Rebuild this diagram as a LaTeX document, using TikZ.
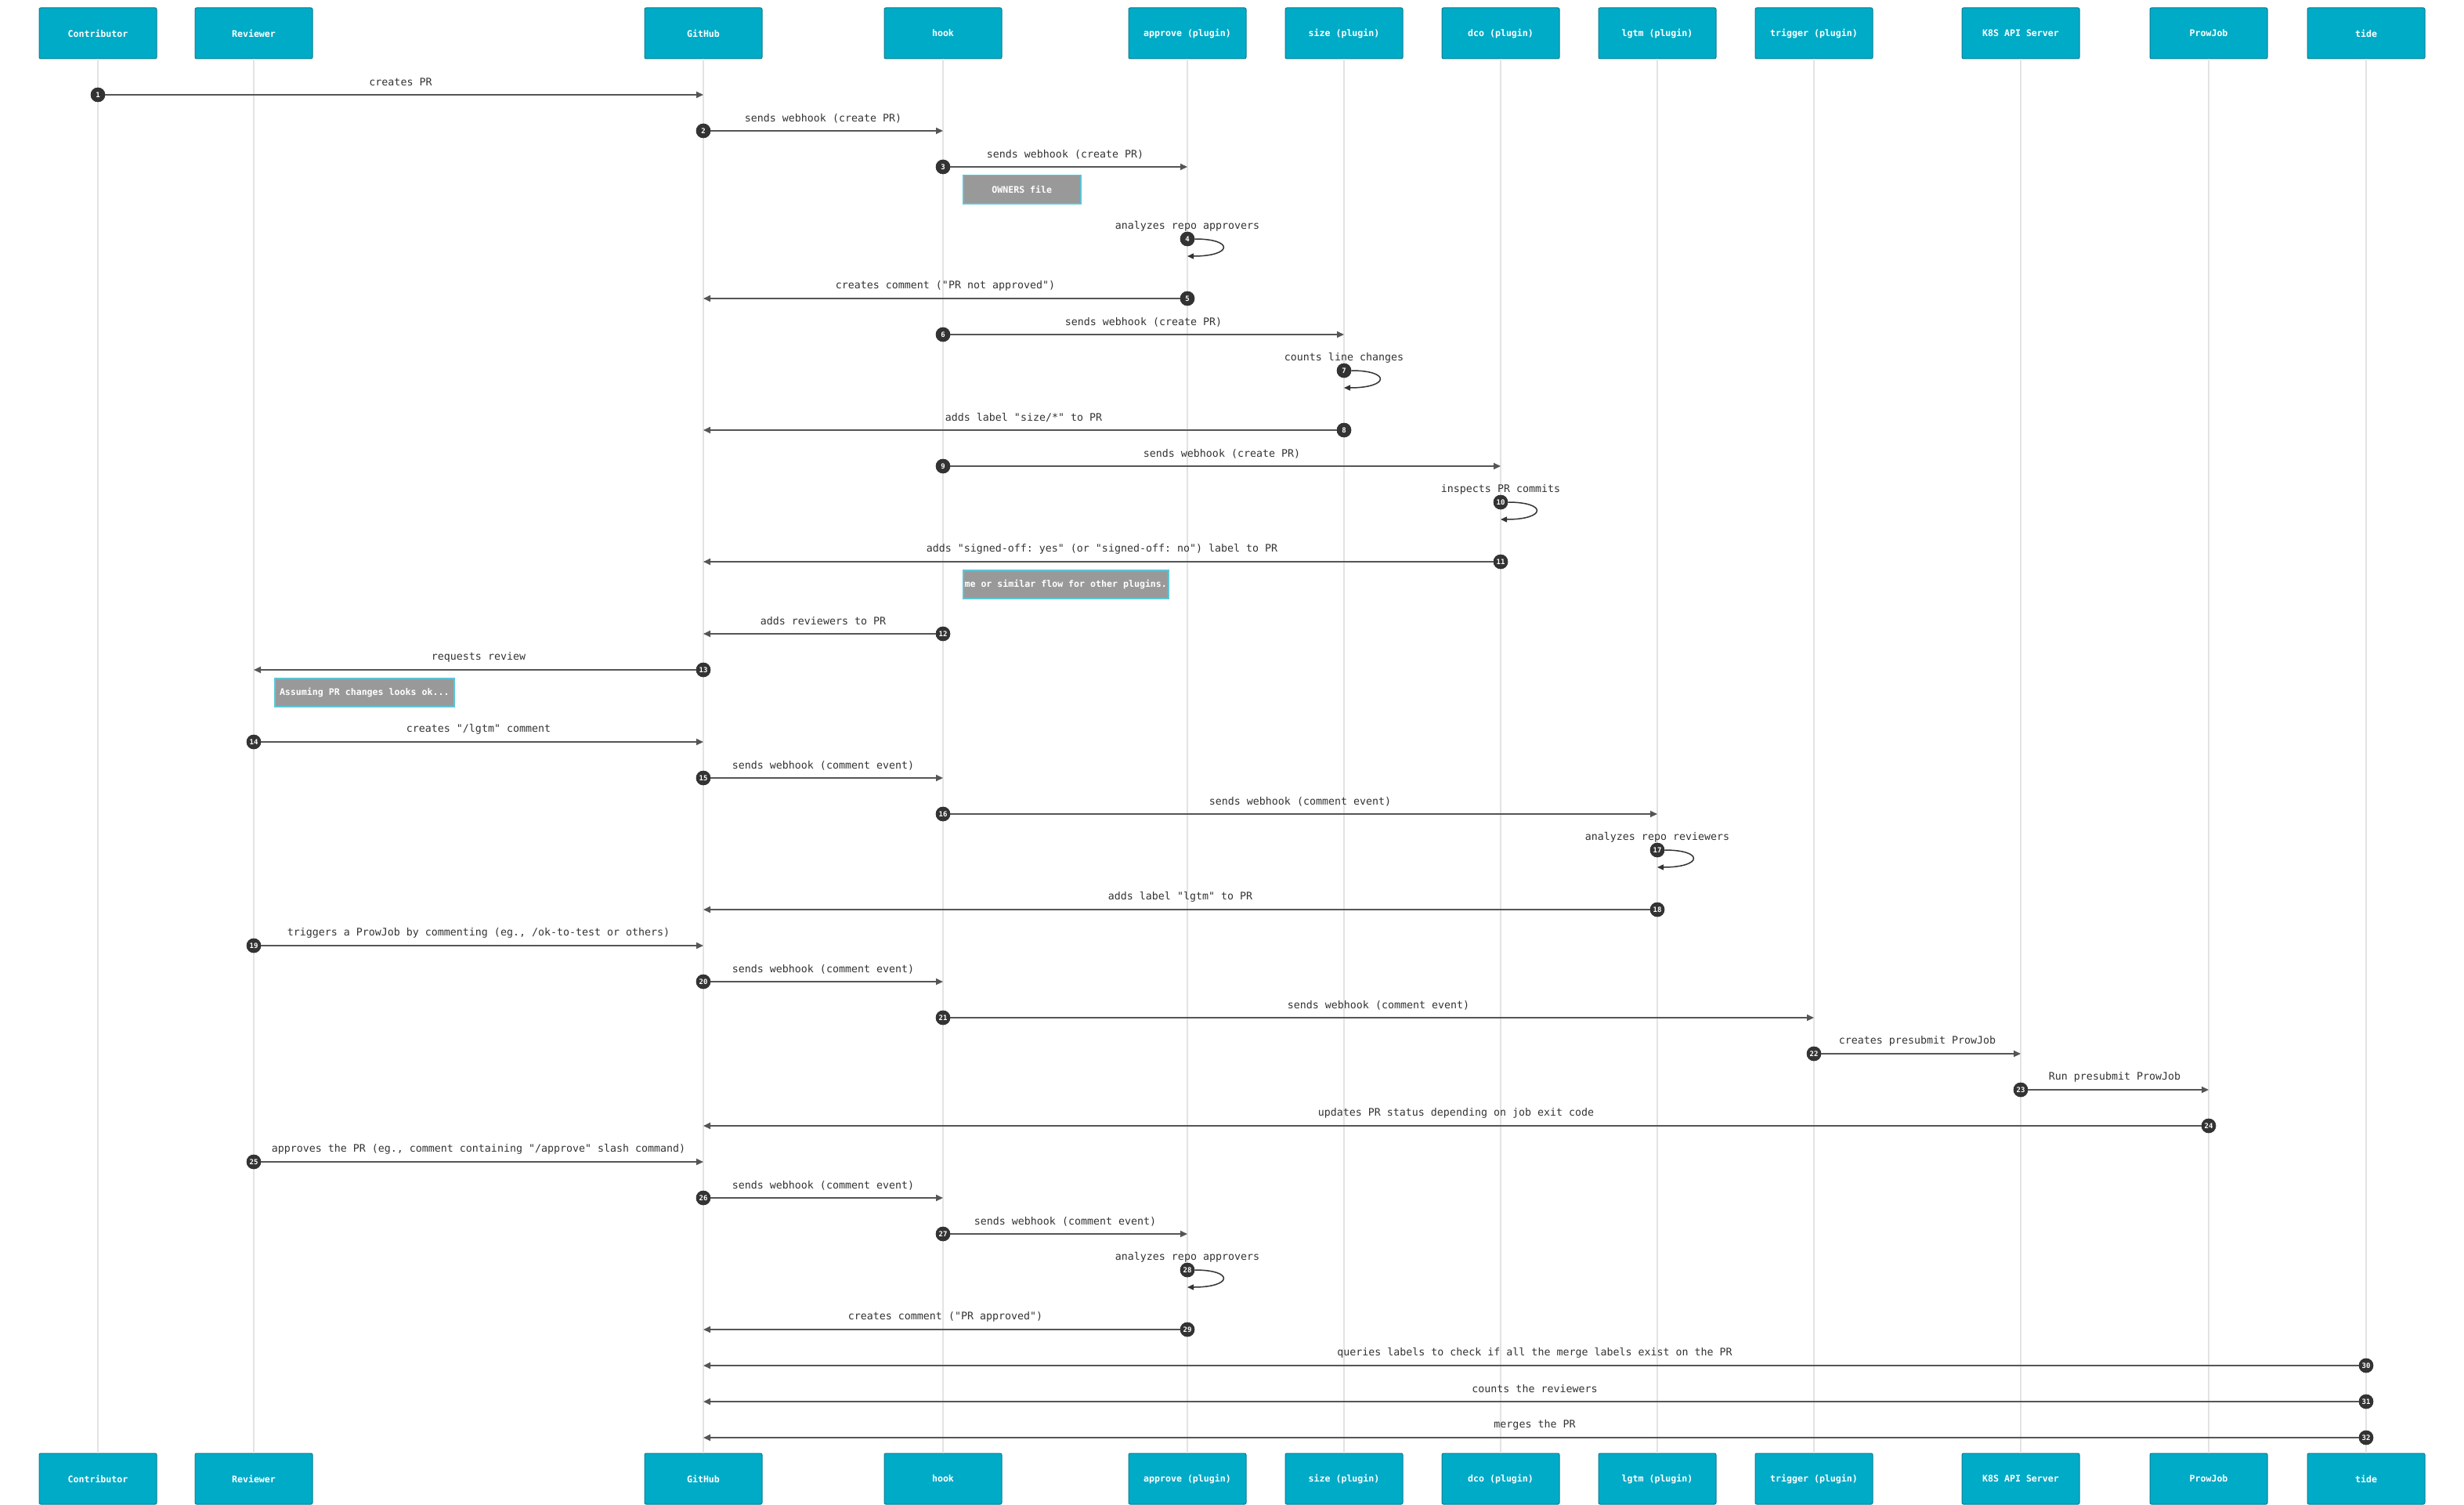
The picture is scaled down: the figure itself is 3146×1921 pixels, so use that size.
\documentclass[tikz,border=0pt]{standalone}
\usepackage{fontspec}
\setmonofont{DejaVu Sans Mono}
\usetikzlibrary{arrows.meta,calc}
\definecolor{actorfill}{HTML}{00ABC7}
\definecolor{actorline}{HTML}{0E7D92}
\definecolor{notefill}{HTML}{999999}
\definecolor{noteline}{HTML}{5CC5D6}
\definecolor{msgline}{HTML}{555555}
\definecolor{msgtext}{HTML}{333333}
\definecolor{life}{HTML}{E3E3E3}
\definecolor{numfill}{HTML}{333333}
\tikzset{
  actorbox/.style={draw=actorline, fill=actorfill, rounded corners=2pt, minimum width=150pt, minimum height=65pt, inner sep=0pt, text=white, font=\ttfamily\bfseries\fontsize{11.6}{13}\selectfont, line width=1pt},
  lifeline/.style={draw=life, line width=2pt},
  seqnum/.style={circle, fill=numfill, minimum size=18.5pt, inner sep=0pt, text=white, font=\ttfamily\bfseries\fontsize{9}{9}\selectfont},
  msgarrow/.style={draw=msgline, line width=2pt, -{Triangle[length=9pt,width=8pt]}},
  msglabel/.style={text=msgtext, font=\ttfamily\fontsize{13.3}{15}\selectfont, inner sep=0pt},
  notebox/.style={draw=noteline, fill=notefill, line width=1.5pt, text=white, font=\ttfamily\bfseries\fontsize{11.6}{13}\selectfont, minimum height=36pt, inner sep=0pt, anchor=north west},
  selfloop/.style={draw=numfill, line width=1.5pt, -{Triangle[length=8pt,width=7pt]}},
}
\newcommand\seqmsg[5]{%
  \coordinate (s#1) at (#2 |- 0,#4);
  \coordinate (e#1) at (#3 |- 0,#4);
  \node[seqnum] (n#1) at (s#1) {#1};
  \draw[msgarrow] (n#1) -- (e#1);
  \node[seqnum] at (s#1) {#1};
  \node[msglabel] (l#1) at ($(s#1)!0.5!(e#1)+(0,-16)$) {#5};
}
\newcommand\seqself[4]{%
  \coordinate (s#1) at (#2 |- 0,#3);
  \coordinate (e#1) at (#2 |- 0,#3+22);
  \node[seqnum] (n#1) at (s#1) {#1};
  \draw[selfloop] (n#1) .. controls +(60,0) and +(58,0) .. (e#1);
  \node[seqnum] at (s#1) {#1};
  \node[msglabel] (l#1) at ($(s#1)+(0,-16)$) {#4};
}
\begin{document}
\begin{tikzpicture}[x=1pt,y=-1pt]
\useasboundingbox (0,0) rectangle (3146,1921);
\fill[white] (0,0) rectangle (3146,1921);
% actors
\foreach \nm/\xx/\txt in {contrib/125/Contributor, rev/324/Reviewer, gh/898/GitHub, hook/1204/hook, appr/1516/approve (plugin), size/1716/size (plugin), dco/1916/dco (plugin), lgtm/2116/lgtm (plugin), trig/2316/trigger (plugin), k8s/2580/K8S API Server, pj/2820/ProwJob, tide/3021/tide}{
  \node[actorbox] (\nm) at (\xx,42.5) {\txt};
  \node[actorbox] (\nm B) at (\xx,1887.5) {\txt};
  \draw[lifeline] (\nm) -- (\nm B);
}
% messages
\seqmsg{1}{contrib}{gh}{121}{creates PR}
\seqmsg{2}{gh}{hook}{167}{sends webhook (create PR)}
\seqmsg{3}{hook}{appr}{213}{sends webhook (create PR)}
\node[notebox, minimum width=150pt] (note1) at (1229,223) {OWNERS file};
\seqself{4}{appr}{305}{analyzes repo approvers}
\seqmsg{5}{appr}{gh}{381}{creates comment ("PR not approved")}
\seqmsg{6}{hook}{size}{427}{sends webhook (create PR)}
\seqself{7}{size}{473}{counts line changes}
\seqmsg{8}{size}{gh}{549}{adds label "size/*" to PR}
\seqmsg{9}{hook}{dco}{595}{sends webhook (create PR)}
\seqself{10}{dco}{641}{inspects PR commits}
\seqmsg{11}{dco}{gh}{717}{adds "signed-off: yes" (or "signed-off: no") label to PR}
\node[notebox, minimum width=262pt] (note2) at (1229,727) {me or similar flow for other plugins.};
\seqmsg{12}{hook}{gh}{809}{adds reviewers to PR}
\seqmsg{13}{gh}{rev}{855}{requests review}
\node[notebox, minimum width=229pt] (note3) at (350,865) {Assuming PR changes looks ok...};
\seqmsg{14}{rev}{gh}{947}{creates "/lgtm" comment}
\seqmsg{15}{gh}{hook}{993}{sends webhook (comment event)}
\seqmsg{16}{hook}{lgtm}{1039}{sends webhook (comment event)}
\seqself{17}{lgtm}{1085}{analyzes repo reviewers}
\seqmsg{18}{lgtm}{gh}{1161}{adds label "lgtm" to PR}
\seqmsg{19}{rev}{gh}{1207}{triggers a ProwJob by commenting (eg., /ok-to-test or others)}
\seqmsg{20}{gh}{hook}{1253}{sends webhook (comment event)}
\seqmsg{21}{hook}{trig}{1299}{sends webhook (comment event)}
\seqmsg{22}{trig}{k8s}{1345}{creates presubmit ProwJob}
\seqmsg{23}{k8s}{pj}{1391}{Run presubmit ProwJob}
\seqmsg{24}{pj}{gh}{1437}{updates PR status depending on job exit code}
\seqmsg{25}{rev}{gh}{1483}{approves the PR (eg., comment containing "/approve" slash command)}
\seqmsg{26}{gh}{hook}{1529}{sends webhook (comment event)}
\seqmsg{27}{hook}{appr}{1575}{sends webhook (comment event)}
\seqself{28}{appr}{1621}{analyzes repo approvers}
\seqmsg{29}{appr}{gh}{1697}{creates comment ("PR approved")}
\seqmsg{30}{tide}{gh}{1743}{queries labels to check if all the merge labels exist on the PR}
\seqmsg{31}{tide}{gh}{1789}{counts the reviewers}
\seqmsg{32}{tide}{gh}{1835}{merges the PR}
\end{tikzpicture}
\end{document}
